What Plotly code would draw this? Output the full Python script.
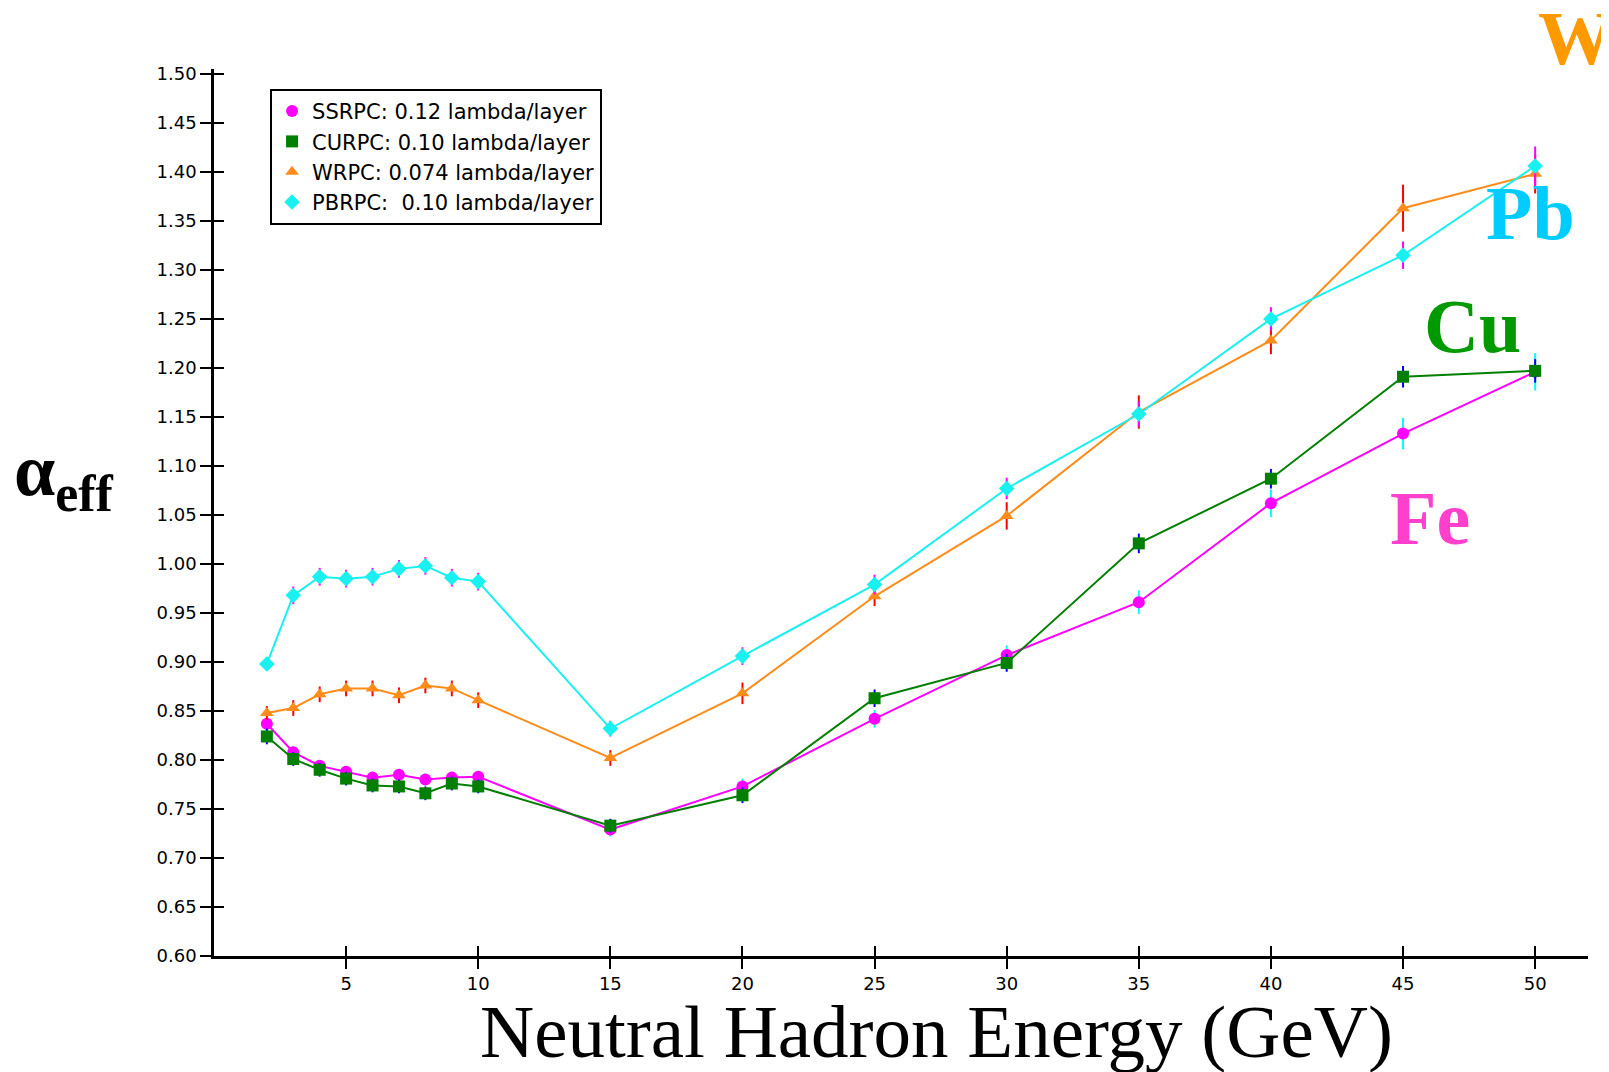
import plotly.graph_objects as go

# neutral hadron energy (GeV)
energy = [2, 3, 4, 5, 6, 7, 8, 9, 10, 15, 20, 25, 30, 35, 40, 45, 50]

# effective alpha per absorber
fe = [0.837, 0.808, 0.794, 0.788, 0.782, 0.785, 0.780, 0.782, 0.783, 0.729, 0.773, 0.842, 0.907, 0.961, 1.062, 1.133, 1.196]
cu = [0.824, 0.801, 0.790, 0.781, 0.774, 0.773, 0.766, 0.776, 0.773, 0.733, 0.764, 0.863, 0.899, 1.021, 1.087, 1.191, 1.197]
w = [0.848, 0.853, 0.867, 0.873, 0.873, 0.866, 0.876, 0.873, 0.861, 0.802, 0.868, 0.967, 1.049, 1.155, 1.228, 1.363, 1.398]
pb = [0.898, 0.968, 0.987, 0.985, 0.987, 0.995, 0.998, 0.986, 0.982, 0.832, 0.906, 0.979, 1.077, 1.153, 1.250, 1.315, 1.406]

fe_err = [0.006, 0.006, 0.006, 0.006, 0.006, 0.006, 0.006, 0.006, 0.006, 0.007, 0.008, 0.009, 0.010, 0.012, 0.014, 0.016, 0.019]
cu_err = [0.008, 0.007, 0.007, 0.007, 0.007, 0.007, 0.007, 0.007, 0.007, 0.007, 0.008, 0.009, 0.009, 0.010, 0.010, 0.011, 0.012]
w_err = [0.007, 0.008, 0.008, 0.008, 0.008, 0.008, 0.008, 0.008, 0.008, 0.008, 0.011, 0.010, 0.014, 0.017, 0.014, 0.024, 0.020]
pb_err = [0.007, 0.009, 0.009, 0.009, 0.009, 0.009, 0.009, 0.009, 0.009, 0.008, 0.009, 0.010, 0.011, 0.013, 0.012, 0.014, 0.020]

x_ticks = [5, 10, 15, 20, 25, 30, 35, 40, 45, 50]

series = [
    # name, y, err, line colour, marker symbol, error colour
    ('SSRPC: 0.12 lambda/layer', fe, fe_err, '#FF00FF', 'circle', '#00FFFF'),
    ('CURPC: 0.10 lambda/layer', cu, cu_err, '#007F00', 'square', '#0000FF'),
    ('WRPC: 0.074 lambda/layer', w, w_err, '#FF8C1A', 'triangle-up', '#FF0000'),
    ('PBRPC:\u00a0 0.10 lambda/layer', pb, pb_err, '#19F0F0', 'diamond', '#FF00FF'),
]

fig = go.Figure()

for name, y, err, col, sym, ecol in series:
    fig.add_trace(go.Scatter(
        x=energy, y=y, mode='lines+markers', showlegend=False,
        line=dict(color=col, width=2),
        marker=dict(symbol=sym, size=12, color=col),
        error_y=dict(type='data', array=err, color=ecol, thickness=2, width=0),
    ))

# marker-only legend entries
for name, y, err, col, sym, ecol in series:
    fig.add_trace(go.Scatter(
        x=[None], y=[None], mode='markers', name=name,
        marker=dict(symbol=sym, size=12, color=col),
        xaxis='x2', yaxis='y2',
    ))

tick_font = dict(family='DejaVu Sans', size=18, color='black')

# page body has an 8px margin, so the figure is 8px smaller and shifted
fig.update_layout(
    width=1601, height=1064,
    margin=dict(l=206, r=21, t=61, b=116),
    plot_bgcolor='white', paper_bgcolor='white',
    xaxis=dict(range=[0, 52], tickvals=x_ticks, ticks='outside', ticklen=10, tickwidth=2,
               tickcolor='black', showline=True, linecolor='black', linewidth=2.5,
               showgrid=False, zeroline=False, tickfont=tick_font),
    yaxis=dict(range=[0.60, 1.505], dtick=0.05, tick0=0.60, tickformat='.2f', ticks='outside',
               ticklen=11, tickwidth=2, tickcolor='black', showline=True, linecolor='black',
               linewidth=2.5, showgrid=False, zeroline=False, tickfont=tick_font),
    xaxis2=dict(range=[0, 52], tickvals=x_ticks, ticks='inside', ticklen=10, tickwidth=2,
                tickcolor='black', showticklabels=False, showline=False, showgrid=False,
                zeroline=False, overlaying='x', anchor='y', side='bottom'),
    yaxis2=dict(range=[0.60, 1.505], dtick=0.05, tick0=0.60, ticks='inside', ticklen=10,
                tickwidth=2, tickcolor='black', showticklabels=False, showline=False,
                showgrid=False, zeroline=False, overlaying='y', anchor='x', side='left'),
    legend=dict(x=0.0408, y=0.9775, xanchor='left', yanchor='top', bgcolor='white',
                bordercolor='black', borderwidth=2,
                font=dict(family='DejaVu Sans', size=21, color='black')),
    font=dict(family='DejaVu Sans', color='black'),
)

serif = 'Liberation Serif'
fig.add_annotation(text='Neutral Hadron Energy (GeV)', xref='paper', yref='paper',
                   x=0.5255, y=-0.085, xanchor='center', yanchor='middle', showarrow=False,
                   font=dict(family=serif, size=75, color='black'))
fig.add_annotation(text='<b>α<sub>eff</sub></b>', xref='paper', yref='paper',
                   x=-0.109, y=0.542, xanchor='center', yanchor='middle', showarrow=False,
                   font=dict(family=serif, size=74, color='black'))

labels = [
    ('W', '#FF9900', 0.962, 1.0355, 'left'),
    ('Pb', '#00CCFF', 0.958, 0.838, 'center'),
    ('Cu', '#009900', 0.9156, 0.710, 'center'),
    ('Fe', '#FF40CC', 0.885, 0.494, 'center'),
]
for txt, col, lx, ly, anc in labels:
    fig.add_annotation(text='<b>' + txt + '</b>', xref='paper', yref='paper', x=lx, y=ly,
                       xanchor=anc, yanchor='middle', showarrow=False,
                       font=dict(family=serif, size=76, color=col))

fig.write_html('out.html')
